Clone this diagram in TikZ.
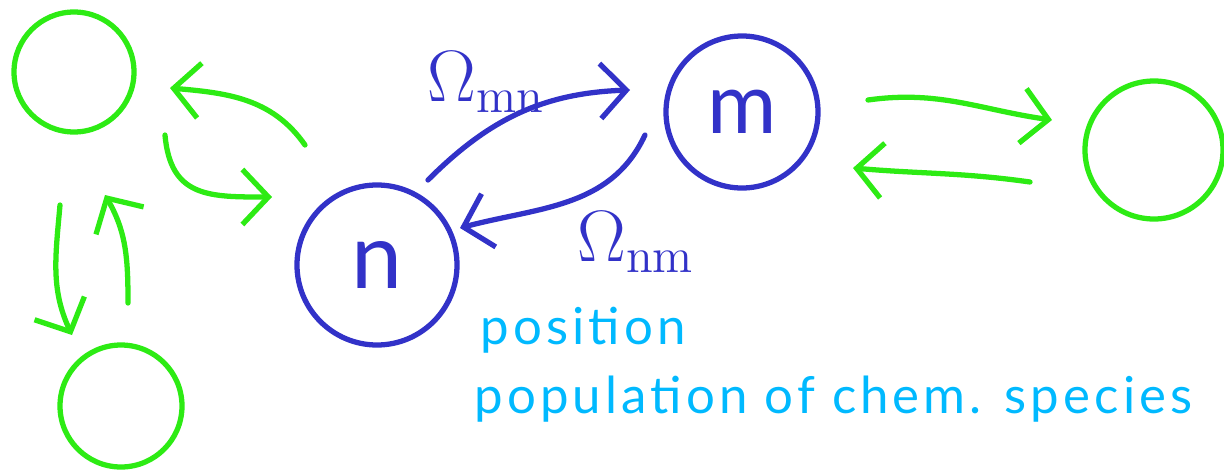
\documentclass[tikz,border=0pt]{standalone}
\usepackage{fontspec}
\usepackage{tikz}
\usetikzlibrary{positioning, arrows.meta}
\newfontfamily\handfont[LetterSpace=8]{Lato}
\newfontfamily\letterfont{Lato}
\definecolor{handgreen}{RGB}{45,235,20}
\definecolor{handblue}{RGB}{50,50,200}
\definecolor{handcyan}{RGB}{0,185,255}

\begin{document}
\begin{tikzpicture}[
    every node/.style = {circle, line width=1.5pt, inner sep=0pt},
    species/.style = {draw=handblue, text=handblue},
    other/.style   = {draw=handgreen},
    rate/.style    = {draw=none, text=handblue, font=\fontsize{20}{24}\selectfont},
    note/.style    = {draw=none, shape=rectangle, text=handcyan, anchor=base west,
                      font=\handfont\fontsize{14.5}{17}\selectfont},
    flow/.style    = {handgreen, line width=1.5pt, line cap=round},
    hop/.style     = {handblue, line width=1.5pt, line cap=round},
    >={Straight Barb[length=2.6mm, width=5.5mm, line width=1.5pt]}
]
\useasboundingbox (0,0) rectangle (12.24,4.70);

% neighbouring states
\node[other, minimum size=1.20cm] (g1) at (0.74, 3.98) {};
\node[other, minimum size=1.22cm] (g2) at (1.21, 0.64) {};
\node[other, minimum size=1.38cm] (g3) at (11.54, 3.20) {};

% the two states n and m
\node[species, minimum size=1.60cm, font=\letterfont\fontsize{26}{30}\selectfont] (n) at (3.77, 2.05) {n};
\node[species, minimum size=1.52cm, font=\letterfont\fontsize{24}{30}\selectfont] (m) at (7.42, 3.58) {m};

% rates
\node[rate] (omn) at (4.86, 3.88) {$\Omega_{\mathrm{mn}}$};
\node[rate] (onm) at (6.36, 2.28) {$\Omega_{\mathrm{nm}}$};

% end points of the hops
\coordinate (nout) at (4.28, 2.90);
\coordinate (min)  at (6.30, 3.80);
\coordinate (mout) at (6.45, 3.35);
\coordinate (nin)  at (4.60, 2.42);

\draw[hop, ->] (nout) to[out=45, in=182] (min);
\draw[hop, ->] (mout) to[out=-115, in=15] (nin);

% green exchanges
\coordinate (a1s) at (3.05, 3.25);  \coordinate (a1e) at (1.70, 3.82);
\coordinate (a2s) at (1.65, 3.35);  \coordinate (a2e) at (2.72, 2.73);
\coordinate (a3s) at (0.60, 2.65);  \coordinate (a3e) at (0.72, 1.35);
\coordinate (a4s) at (1.28, 1.67);  \coordinate (a4e) at (1.05, 2.75);
\coordinate (a5s) at (8.68, 3.70);  \coordinate (a5e) at (10.52, 3.50);
\coordinate (a6s) at (10.30, 2.88); \coordinate (a6e) at (8.53, 3.02);

\draw[flow, ->] (a1s) to[out=125, in=-5] (a1e);
\draw[flow, ->] (a2s) to[out=-85, in=180, looseness=1.3] (a2e);
\draw[flow, ->] (a3s) to[out=-95, in=115] (a3e);
\draw[flow, ->] (a4s) to[out=90, in=-60] (a4e);
\draw[flow, ->] (a5s) to[out=8, in=172] (a5e);
\draw[flow, ->] (a6s) to[out=172, in=-5] (a6e);

% notes
\node[note] (pos) at (4.78, 1.26) {position};
\node[note] (pop) at (4.72, 0.57) {population of chem. species};

\end{tikzpicture}
\end{document}
